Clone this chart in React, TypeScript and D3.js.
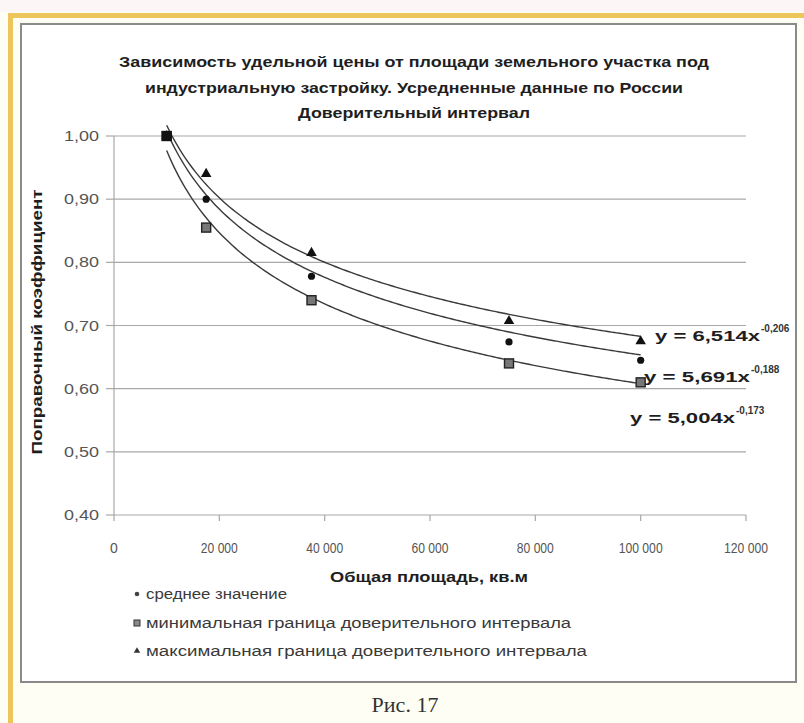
import React from "react";
import * as d3 from "d3";

const titleLines = [
  "Зависимость удельной цены от площади земельного  участка под",
  "индустриальную застройку. Усредненные данные по России",
  "Доверительный интервал",
];
const yTitle = "Поправочный  коэффициент";
const xTitle = "Общая площадь, кв.м";
const caption = "Рис. 17";

const areas = [10000, 17500, 37500, 75000, 100000];
const meanValues = [1.0, 0.9, 0.778, 0.674, 0.645];
const minValues = [1.0, 0.855, 0.74, 0.64, 0.61];
const maxValues = [1.0, 0.94, 0.815, 0.707, 0.675];

const seriesNames = [
  "среднее значение",
  "минимальная граница доверительного интервала",
  "максимальная граница доверительного интервала",
];
// trendline power fits y = a * x^b for mean, min, max
const trendA = [5.691, 6.514, 5.004];
const trendB = [-0.188, -0.206, -0.173];
const eqCoef = ["6,514", "5,691", "5,004"];
const eqExp = ["-0,206", "-0,188", "-0,173"];

const xTicks = [0, 20000, 40000, 60000, 80000, 100000, 120000];
const xTickLabels = ["0", "20 000", "40 000", "60 000", "80 000", "100 000", "120 000"];
const yTicks = [0.4, 0.5, 0.6, 0.7, 0.8, 0.9, 1.0];
const yTickLabels = ["0,40", "0,50", "0,60", "0,70", "0,80", "0,90", "1,00"];

const W = 804;
const H = 723;
const FONT = "'Liberation Sans', Arial, sans-serif";

export default function App() {
  const x = d3.scaleLinear().domain([0, 120000]).range([114, 746]);
  const y = d3.scaleLinear().domain([0.4, 1.0]).range([515, 136]);

  const line = d3
    .line<[number, number]>()
    .x((d) => x(d[0]))
    .y((d) => y(d[1]))
    .curve(d3.curveLinear);

  const trendPaths = trendA.map((a, i) => {
    const xs = d3.range(areas[0], areas[areas.length - 1] + 1, 500);
    return line(xs.map((v) => [v, a * Math.pow(v, trendB[i])] as [number, number]));
  });

  const tri = d3.symbol().type(d3.symbolTriangle).size(48)();
  const triSmall = d3.symbol().type(d3.symbolTriangle).size(18)();

  const legendY = [594, 623, 651];
  const legendW = [141, 425, 441];
  const eqPos = [
    { x: 655, y: 341, w: 105 },
    { x: 644, y: 382, w: 106 },
    { x: 630, y: 423, w: 105 },
  ];

  return (
    <div style={{ position: "absolute", left: 0, top: 0 }}>
      <svg width={W} height={H} style={{ display: "block" }}>
        <rect x={0} y={0} width={W} height={H} fill="#fffef4" />
        <rect x={0} y={0} width={W} height={12} fill="#fdf6f7" />
        <rect x={8} y={13} width={W - 8} height={5} fill="#ecc65a" />
        <rect x={8} y={13} width={5} height={H - 13} fill="#ecc65a" />
        <rect x={21} y={24} width={775} height={658} fill="#ffffff" stroke="#8a8a8a" strokeWidth={2} />

        {titleLines.map((t, i) => (
          <text
            key={i}
            x={414}
            y={67 + i * 25.5}
            textAnchor="middle"
            fontFamily={FONT}
            fontWeight="bold"
            fontSize={15}
            fill="#1e1e1e"
            textLength={[590, 538, 232][i]}
            lengthAdjust="spacingAndGlyphs"
          >
            {t}
          </text>
        ))}

        {yTicks.map((t, i) => (
          <g key={i}>
            <line x1={x(0)} x2={x(120000)} y1={y(t)} y2={y(t)} stroke="#a8a8a8" strokeWidth={1.2} />
            <line x1={x(0) - 8} x2={x(0)} y1={y(t)} y2={y(t)} stroke="#a8a8a8" strokeWidth={1.2} />
            <text
              x={99}
              y={y(t) + 5}
              textAnchor="end"
              fontFamily={FONT}
              fontSize={14}
              fill="#555"
              textLength={35}
              lengthAdjust="spacingAndGlyphs"
            >
              {yTickLabels[i]}
            </text>
          </g>
        ))}
        <line x1={x(0)} x2={x(0)} y1={y(1.0)} y2={y(0.4)} stroke="#a8a8a8" strokeWidth={1.2} />
        {xTicks.map((t, i) => (
          <g key={i}>
            <line x1={x(t)} x2={x(t)} y1={y(0.4)} y2={y(0.4) + 6} stroke="#a8a8a8" strokeWidth={1.2} />
            <text
              x={x(t)}
              y={553}
              textAnchor="middle"
              fontFamily={FONT}
              fontSize={14}
              fill="#555"
              textLength={i === 0 ? undefined : i >= 5 ? 44 : 37}
              lengthAdjust="spacingAndGlyphs"
            >
              {xTickLabels[i]}
            </text>
          </g>
        ))}

        <text
          transform={`translate(42,322) rotate(-90)`}
          textAnchor="middle"
          fontFamily={FONT}
          fontWeight="bold"
          fontSize={14.5}
          fill="#1e1e1e"
          textLength={265}
          lengthAdjust="spacingAndGlyphs"
        >
          {yTitle}
        </text>
        <text
          x={429}
          y={582}
          textAnchor="middle"
          fontFamily={FONT}
          fontWeight="bold"
          fontSize={15}
          fill="#1e1e1e"
          textLength={198}
          lengthAdjust="spacingAndGlyphs"
        >
          {xTitle}
        </text>

        {trendPaths.map((p, i) => (
          <path key={i} d={p || ""} fill="none" stroke="#3a3a3a" strokeWidth={1.4} />
        ))}

        {areas.map((a, i) => (
          <rect
            key={"s" + i}
            x={x(a) - 4.5}
            y={y(minValues[i]) - 4.5}
            width={9}
            height={9}
            fill="#777"
            stroke="#222"
            strokeWidth={1.4}
          />
        ))}
        {areas.map((a, i) => (
          <circle key={"c" + i} cx={x(a)} cy={y(meanValues[i])} r={3.6} fill="#111" />
        ))}
        {areas.map((a, i) => (
          <path
            key={"t" + i}
            d={tri || ""}
            transform={`translate(${x(a)},${y(maxValues[i])})`}
            fill="#111"
          />
        ))}
        <rect x={x(areas[0]) - 5} y={y(1) - 5} width={10} height={10} fill="#111" />

        {eqPos.map((p, i) => (
          <g key={i}>
            <text
              x={p.x}
              y={p.y}
              fontFamily={FONT}
              fontWeight="bold"
              fontSize={15.5}
              fill="#1e1e1e"
              textLength={p.w}
              lengthAdjust="spacingAndGlyphs"
            >
              {`y = ${eqCoef[i]}x`}
            </text>
            <text
              x={p.x + p.w + 1}
              y={p.y - 9}
              fontFamily={FONT}
              fontWeight="bold"
              fontSize={10}
              fill="#333"
            >
              {eqExp[i]}
            </text>
          </g>
        ))}

        {seriesNames.map((n, i) => (
          <g key={i}>
            {i === 0 && <circle cx={137} cy={legendY[i]} r={2.3} fill="#444" />}
            {i === 1 && (
              <rect x={134} y={legendY[i] - 3} width={6} height={6} fill="#888" stroke="#333" strokeWidth={1} />
            )}
            {i === 2 && <path d={triSmall || ""} transform={`translate(137,${legendY[i]})`} fill="#333" />}
            <text
              x={146}
              y={legendY[i] + 5}
              fontFamily={FONT}
              fontSize={14}
              fill="#3a3a3a"
              textLength={legendW[i]}
              lengthAdjust="spacingAndGlyphs"
            >
              {n}
            </text>
          </g>
        ))}

        <text
          x={405}
          y={712}
          textAnchor="middle"
          fontFamily="'Liberation Serif', 'Times New Roman', serif"
          fontSize={22}
          fill="#333"
        >
          {caption}
        </text>
      </svg>
    </div>
  );
}
